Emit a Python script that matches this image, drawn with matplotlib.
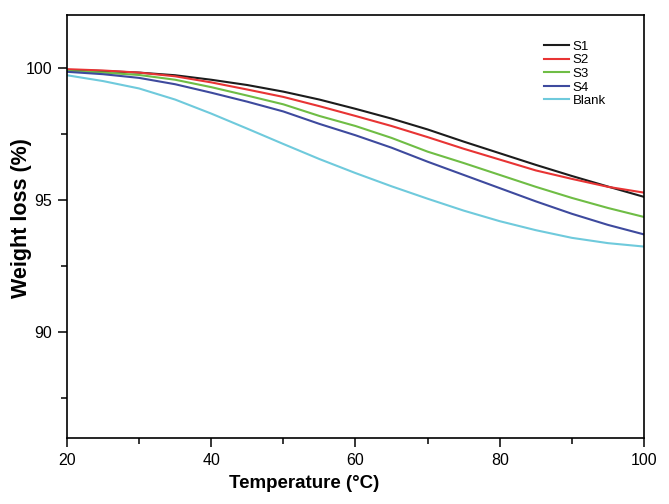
import matplotlib
matplotlib.use('Agg')
from matplotlib import pyplot as plt
from matplotlib.ticker import MultipleLocator

plt.rcParams['font.family'] = ['Liberation Sans', 'DejaVu Sans']

# temperature grid (°C)
temp = [20, 25, 30, 35, 40, 45, 50, 55, 60, 65, 70, 75, 80, 85, 90, 95, 100]

# weight loss (%)
s1 = [99.92, 99.88, 99.82, 99.72, 99.55, 99.35, 99.10, 98.80, 98.45, 98.08, 97.67, 97.21, 96.77, 96.33, 95.91, 95.51, 95.12]
s2 = [99.95, 99.90, 99.82, 99.68, 99.45, 99.18, 98.90, 98.55, 98.18, 97.80, 97.38, 96.94, 96.53, 96.12, 95.80, 95.50, 95.28]
s3 = [99.88, 99.82, 99.73, 99.55, 99.27, 98.95, 98.62, 98.18, 97.80, 97.35, 96.83, 96.40, 95.95, 95.50, 95.08, 94.70, 94.36]
s4 = [99.85, 99.76, 99.62, 99.38, 99.06, 98.72, 98.35, 97.88, 97.45, 96.98, 96.45, 95.95, 95.45, 94.95, 94.48, 94.06, 93.70]
blank = [99.72, 99.50, 99.22, 98.80, 98.27, 97.70, 97.12, 96.55, 96.02, 95.52, 95.05, 94.60, 94.20, 93.86, 93.57, 93.37, 93.24]

names = ['S1', 'S2', 'S3', 'S4', 'Blank']
colors = ['#1c1c1c', '#e83434', '#6fbd45', '#3e4a9e', '#6fcadc']

fig = plt.figure(figsize=(6.69, 5.04), dpi=100)
ax = fig.add_axes([0.1001, 0.131, 0.8625, 0.8393])

for ys, name, c in zip([s1, s2, s3, s4, blank], names, colors):
    ax.plot(temp, ys, color=c, lw=1.5, label=name)

ax.set_xlim(20, 100)
ax.set_ylim(86, 102)
ax.xaxis.set_major_locator(MultipleLocator(20))
ax.xaxis.set_minor_locator(MultipleLocator(10))
ax.yaxis.set_major_locator(MultipleLocator(5))
ax.yaxis.set_minor_locator(MultipleLocator(2.5))
ax.tick_params(which='major', direction='out', length=6.5, width=1.1, labelsize=11.5, pad=4)
ax.tick_params(which='minor', direction='out', length=4, width=1.1)
for sp in ax.spines.values():
    sp.set_linewidth(1.2)

ax.set_xlabel('Temperature (°C)', fontsize=13.5, fontweight='bold')
ax.xaxis.set_label_coords((304 - 67) / 577, -0.088)
ax.set_ylabel('Weight loss (%)', fontsize=15.5, fontweight='bold')
ax.yaxis.set_label_coords(-0.060, 0.52)

ax.legend(loc='upper right', bbox_to_anchor=(0.945, 0.955), frameon=False,
          fontsize=9.5, handlelength=1.9, handletextpad=0.25, labelspacing=0.1,
          borderpad=0)

fig.savefig('out.png', dpi=100)
